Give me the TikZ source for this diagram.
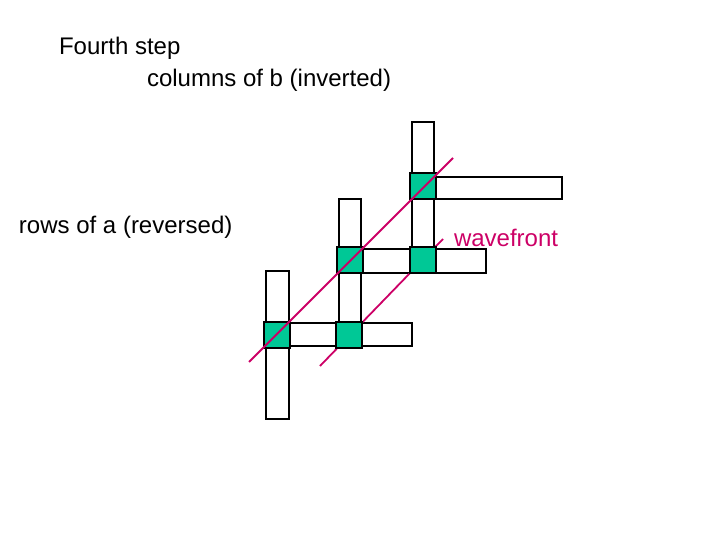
\documentclass[tikz,border=0pt]{standalone}
\usepackage{fontspec}
\setmainfont{Liberation Sans}
\definecolor{cellGreen}{RGB}{0, 200, 150}
\definecolor{waveColor}{RGB}{204, 0, 102}
\begin{document}
\begin{tikzpicture}[x=1pt, y=-1pt, line width=2pt,
    bar/.style={draw, fill=white},
    cell/.style={draw, fill=cellGreen, minimum size=26pt, inner sep=0pt},
    wave/.style={draw=waveColor, line width=1.8pt},
    lbl/.style={font=\fontsize{24}{28}\selectfont, anchor=west, inner sep=0pt}]
    \useasboundingbox (0,0) rectangle (720,540);
    % Texts
    \node[lbl] (title) at (58,48) {Fourth step};
    \node[lbl] (cols) at (146,80) {columns of b (inverted)};
    \node[lbl] (rows) at (18,227) {rows of a (reversed)};
    \node[lbl, text=waveColor] (wf) at (453,238) {wavefront};
    % Bars
    \draw[bar] (266,271) rectangle (289,419);
    \draw[bar] (266,323) rectangle (412,346);
    \draw[bar] (339,199) rectangle (361,347);
    \draw[bar] (339,249) rectangle (486,273);
    \draw[bar] (412,122) rectangle (434,272);
    \draw[bar] (412,177) rectangle (562,199);
    % Second wavefront line
    \coordinate (w2a) at (320,366);
    \coordinate (w2b) at (443,239);
    \draw[wave] (w2a) -- (w2b);
    % Cells
    \node[cell] (c1) at (277,335) {};
    \node[cell] (c2) at (349,335) {};
    \node[cell] (c3) at (350,260) {};
    \node[cell] (c4) at (423,260) {};
    \node[cell] (c5) at (423,186) {};
    % First wavefront line
    \coordinate (w1a) at (249,362);
    \coordinate (w1b) at (453,158);
    \draw[wave] (w1a) -- (w1b);
\end{tikzpicture}
\end{document}
